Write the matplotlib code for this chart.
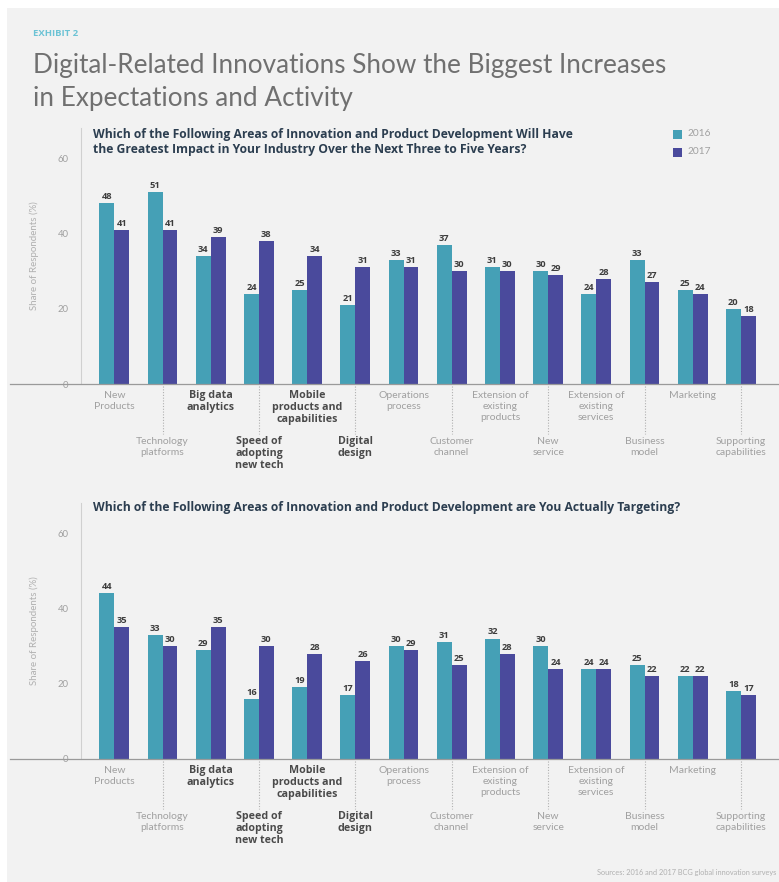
import matplotlib
matplotlib.use("Agg")
import matplotlib.pyplot as plt
import matplotlib.transforms as mtransforms
from matplotlib.lines import Line2D
from matplotlib.patches import Rectangle
import numpy as np

# ---------------- data ----------------
categories = [
    "New\nProducts", "Technology\nplatforms", "Big data\nanalytics",
    "Speed of\nadopting\nnew tech", "Mobile\nproducts and\ncapabilities",
    "Digital\ndesign", "Operations\nprocess", "Customer\nchannel",
    "Extension of\nexisting\nproducts", "New\nservice",
    "Extension of\nexisting\nservices", "Business\nmodel", "Marketing",
    "Supporting\ncapabilities",
]
bold_categories = [2, 3, 4, 5]
series_names = ["2016", "2017"]

impact_2016 = [48, 51, 34, 24, 25, 21, 33, 37, 31, 30, 24, 33, 25, 20]
impact_2017 = [41, 41, 39, 38, 34, 31, 31, 30, 30, 29, 28, 27, 24, 18]
target_2016 = [44, 33, 29, 16, 19, 17, 30, 31, 32, 30, 24, 25, 22, 18]
target_2017 = [35, 30, 35, 30, 28, 26, 29, 25, 28, 24, 24, 22, 22, 17]

y_ticks = [0, 20, 40, 60]

title_small = "EXHIBIT 2"
title_lines = ["Digital-Related Innovations Show the Biggest Increases",
               "in Expectations and Activity"]
question_top = ("Which of the Following Areas of Innovation and Product Development Will Have\n"
                "the Greatest Impact in Your Industry Over the Next Three to Five Years?")
question_bottom = "Which of the Following Areas of Innovation and Product Development are You Actually Targeting?"
y_label = "Share of Respondents (%)"
source_text = "Sources: 2016 and 2017 BCG global innovation surveys"

# ---------------- style ----------------
W, H = 779, 882
BG = "#f2f2f2"
C16 = "#45a0b6"
C17 = "#4a4a9c"
LIGHT = "#a0a0a0"
DARK = "#4a4a4a"
NAVY = "#2c3e50"
FONT = "Lato"
BFONT = "Open Sans"

fig = plt.figure(figsize=(W / 100, H / 100), dpi=100)
fig.patch.set_facecolor("white")
fig.add_artist(Rectangle((7 / W, 0), 1, 1 - 8 / H, transform=fig.transFigure,
                         facecolor=BG, edgecolor="none", zorder=-10))


def fx(px):
    return px / W


def fy(py):
    return 1 - py / H


# titles
fig.text(fx(33), fy(34), title_small, color="#6cc3d5", fontsize=6.8,
         fontweight="bold", family=BFONT, va="center", ha="left")
fig.text(fx(33), fy(73), title_lines[0], color="#707070", fontsize=18.8,
         fontweight="normal", family=FONT, va="baseline", ha="left")
fig.text(fx(33), fy(106), title_lines[1], color="#707070", fontsize=18.8,
         fontweight="normal", family=FONT, va="baseline", ha="left")

x = np.arange(len(categories))
bw = 0.31
left_px, right_px = 81, 770
xlim = ((left_px - 114.3) / 48.2, (right_px - 114.3) / 48.2)


def draw_panel(top_px, base_px, v16, v17, question, q_y):
    ax = fig.add_axes([fx(left_px), fy(base_px), (right_px - left_px) / W,
                       (base_px - top_px) / H])
    ax.set_facecolor("none")
    ax.bar(x - bw / 2, v16, bw, color=C16, zorder=3)
    ax.bar(x + bw / 2, v17, bw, color=C17, zorder=3)
    for xi, a, b in zip(x, v16, v17):
        ax.annotate(str(a), (xi - bw / 2, a), xytext=(0, 1.5), textcoords="offset points",
                    ha="center", va="bottom", fontsize=6.7, fontweight="bold",
                    color="#3d3d3d", family=BFONT)
        ax.annotate(str(b), (xi + bw / 2, b), xytext=(0, 1.5), textcoords="offset points",
                    ha="center", va="bottom", fontsize=6.7, fontweight="bold",
                    color="#3d3d3d", family=BFONT)
    ax.set_xlim(*xlim)
    ax.set_ylim(0, 68)
    ax.set_yticks(y_ticks)
    ax.set_yticklabels([str(t) for t in y_ticks], family=FONT, fontsize=6.8, color=LIGHT)
    ax.tick_params(axis="y", length=0, pad=9)
    ax.set_xticks([])
    for s in ["top", "right", "bottom"]:
        ax.spines[s].set_visible(False)
    ax.spines["left"].set_color("#d0d0d0")
    ax.spines["left"].set_linewidth(0.8)
    ax.set_ylabel(y_label, family=FONT, fontsize=7, color="#b0b0b0", labelpad=13)
    # baseline extended to the left
    fig.add_artist(Line2D([fx(10), 1.0], [fy(base_px), fy(base_px)],
                          transform=fig.transFigure, color="#9a9a9a", lw=0.9))
    # category labels
    trans = mtransforms.blended_transform_factory(ax.transData, fig.transFigure)
    for i, lab in enumerate(categories):
        bold = i in bold_categories
        if i % 2 == 0:
            ytop = base_px + 6
        else:
            ytop = base_px + 52
            fig.add_artist(Line2D([i, i], [fy(base_px + 2), fy(base_px + 50)],
                                  transform=trans, color="#b0b0b0", lw=0.8,
                                  linestyle=(0, (1, 1.5))))
        if bold:
            fig.text(i, fy(ytop), lab, transform=trans, ha="center", va="top",
                     fontsize=7.7, fontweight="bold", color=DARK, family=BFONT,
                     linespacing=1.15)
        else:
            fig.text(i, fy(ytop + 1), lab, transform=trans, ha="center", va="top",
                     fontsize=7.5, fontweight="normal", color=LIGHT, family=FONT,
                     linespacing=1.3)
    fig.text(fx(93), fy(q_y), question, ha="left", va="center", fontsize=8.7,
             fontweight="bold", color=NAVY, family=BFONT, linespacing=1.25)
    return ax


draw_panel(128, 384, impact_2016, impact_2017, question_top, 142)
draw_panel(503, 759, target_2016, target_2017, question_bottom, 508)

# legend
for k, (name, col) in enumerate(zip(series_names, [C16, C17])):
    yc = 134 + 18 * k
    fig.add_artist(Rectangle((fx(673), fy(yc + 4.5)), 9 / W, 9 / H,
                             transform=fig.transFigure, facecolor=col, edgecolor="none"))
    fig.text(fx(688), fy(yc), name, ha="left", va="center", fontsize=7.3,
             color=LIGHT, family=FONT)

fig.text(fx(776), fy(873), source_text, ha="right", va="center", fontsize=5.3,
         color="#b0b0b0", family=FONT)

fig.savefig("out.png", dpi=100, facecolor=fig.get_facecolor())
